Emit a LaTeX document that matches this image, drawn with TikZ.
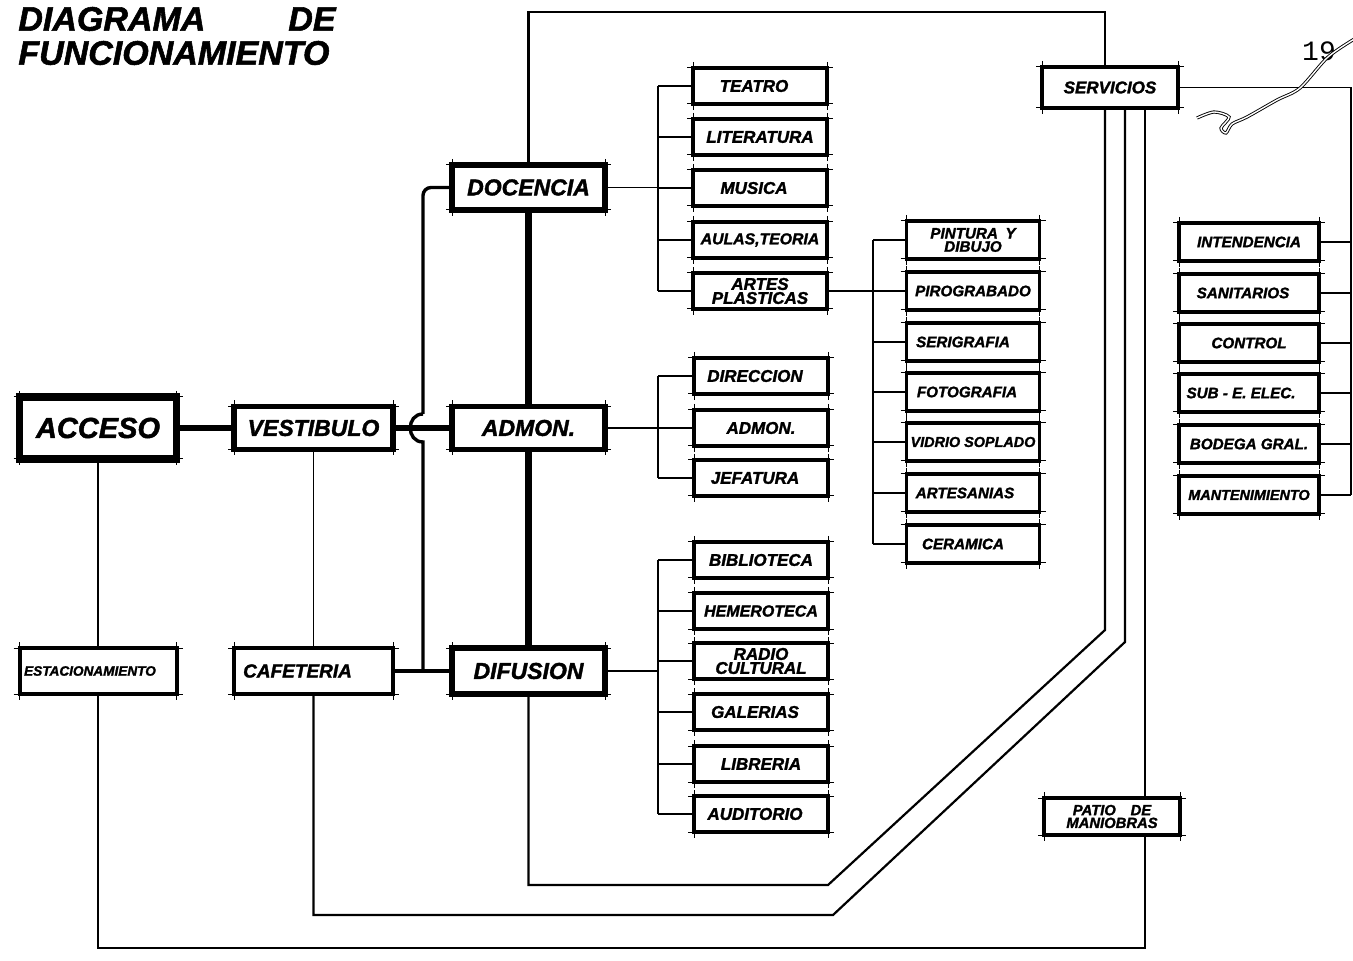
\documentclass[tikz,border=0pt]{standalone}
\usepackage{fontspec}
\setmainfont{Liberation Sans}
\newfontfamily\heavy{Liberation Sans}
\newfontfamily\monof{Liberation Mono}
\newcommand{\hv}[2]{\heavy\bfseries\itshape\addfontfeature{FakeBold=1.6}\fontsize{#1}{#2}\selectfont}
\tikzset{
  bx/.style={draw, fill=white, line width=1.7pt, inner sep=0pt, outer sep=0pt,
     minimum width=67pt, minimum height=18pt, align=center,
     font=\hv{8.5pt}{7pt}},
  artbx/.style={bx, minimum width=66.5pt, minimum height=19pt, font=\hv{7.6pt}{6.6pt}},
  rbx/.style={bx, minimum width=70pt, minimum height=19pt, font=\hv{7.6pt}{7.6pt}},
  mainbx/.style={bx, line width=2.6pt, minimum width=76.5pt, minimum height=22.5pt, font=\hv{11.5pt}{11.5pt}},
  accbx/.style={bx, line width=3.6pt, minimum width=78.5pt, minimum height=31pt, font=\hv{14.5pt}{14.5pt}},
  lowbx/.style={bx, line width=2.2pt, minimum width=79.5pt, minimum height=23pt, font=\hv{9.5pt}{9.5pt}},
  tick/.style={line width=0.5pt},
  thin/.style={line width=0.75pt},
  outl/.style={line width=1.1pt},
  bus/.style={line width=1.7pt},
  scrib/.style={line width=0.45pt, double, double distance=0.7pt},
}
\begin{document}
\begin{tikzpicture}[x=0.5pt, y=-0.5pt, line join=miter]
\fill[white] (0,0) rectangle (1353,961);
\useasboundingbox (0,0) rectangle (1353,961);

% coordinates
\coordinate (bx1) at (658,0);
\coordinate (bx2) at (873,0);
\coordinate (bxR) at (1351,0);
\coordinate (t2) at (1105,12);
\coordinate (b1) at (828,885);
\coordinate (d1) at (1105,630);
\coordinate (b2) at (833,915);
\coordinate (d2) at (1125,642);
\coordinate (b3) at (1145,948);
\coordinate (h1) at (423,414);
\coordinate (h2) at (423,442);

% title
\node[anchor=west, font=\hv{17pt}{17pt}, inner sep=0pt] (ti1) at (18,19) {DIAGRAMA};
\node[anchor=east, font=\hv{17pt}{17pt}, inner sep=0pt] (ti2) at (336,19) {DE};
\node[anchor=west, font=\hv{17pt}{17pt}, inner sep=0pt] (ti3) at (18,53) {FUNCIONAMIENTO};
\node[font=\monof\fontsize{14pt}{14pt}\selectfont, inner sep=0pt] (pg) at (1319,51) {19};

% main nodes
\node[accbx] (ACC) at (98,428) {ACCESO};
\node[mainbx, minimum width=79.5pt, minimum height=21.5pt] (VEST) at (313.5,428) {VESTIBULO};
\node[mainbx, minimum height=21.5pt] (ADM) at (528.5,428) {ADMON.};
\node[mainbx] (DOC) at (528.5,187.5) {DOCENCIA};
\node[mainbx, minimum height=23pt] (DIF) at (528.5,671) {DIFUSION};
\node[lowbx, minimum width=78.5pt, line width=2pt, font=\hv{6.8pt}{6.8pt}] (EST) at (98,671) {ESTACIONAMIENTO\hspace*{8pt}};
\node[lowbx] (CAF) at (313.5,671) {CAFETERIA\hspace*{16pt}};

% docencia list
\node[bx] (TEA) at (760,86) {TEATRO\hspace*{6pt}};
\node[bx] (LIT) at (760,137) {LITERATURA};
\node[bx] (MUS) at (760,188) {MUSICA\hspace*{6pt}};
\node[bx, font=\hv{7.9pt}{7.9pt}] (AUL) at (760,240) {AULAS,TEORIA};
\node[bx] (ART) at (760,291) {ARTES\\PLASTICAS};
% admon list
\node[bx] (DIR) at (761,376) {DIRECCION\hspace*{6pt}};
\node[bx] (ADM2) at (761,428) {ADMON.};
\node[bx] (JEF) at (761,478) {JEFATURA\hspace*{6pt}};
% difusion list
\node[bx] (BIB) at (761,560) {BIBLIOTECA};
\node[bx, font=\hv{8pt}{8pt}] (HEM) at (761,611) {HEMEROTECA};
\node[bx] (RAD) at (761,661) {RADIO\\CULTURAL};
\node[bx] (GAL) at (761,712) {GALERIAS\hspace*{6pt}};
\node[bx] (LIB) at (761,764) {LIBRERIA};
\node[bx] (AUD) at (761,814) {AUDITORIO\hspace*{6pt}};
% artes plasticas list
\node[artbx] (PIN) at (973,240) {PINTURA\enspace Y\\DIBUJO};
\node[artbx] (PIR) at (973,291) {PIROGRABADO};
\node[artbx] (SER) at (973,342) {SERIGRAFIA\hspace*{10pt}};
\node[artbx] (FOT) at (973,392) {FOTOGRAFIA\hspace*{6pt}};
\node[artbx, font=\hv{7.2pt}{7.2pt}] (VID) at (973,442) {VIDRIO SOPLADO};
\node[artbx] (ARS) at (973,493) {ARTESANIAS\hspace*{8pt}};
\node[artbx] (CER) at (973,544) {CERAMICA\hspace*{10pt}};
% servicios
\node[bx, minimum width=68pt, minimum height=20.5pt] (SERV) at (1110,87.5) {SERVICIOS};
\node[bx, minimum width=68pt, minimum height=18.5pt, font=\hv{7.4pt}{6.4pt}] (PAT) at (1112,816.5) {PATIO\quad DE\\MANIOBRAS};
\node[rbx] (INT) at (1249,242) {INTENDENCIA};
\node[rbx] (SAN) at (1249,293) {SANITARIOS\hspace*{6pt}};
\node[rbx] (CON) at (1249,343) {CONTROL};
\node[rbx] (SUB) at (1249,393) {SUB - E. ELEC.\hspace*{8pt}};
\node[rbx] (BOD) at (1249,444) {BODEGA GRAL.};
\node[rbx, font=\hv{7.2pt}{7.2pt}] (MAN) at (1249,495) {MANTENIMIENTO};

% corner ticks
\foreach \n in {ACC,VEST,ADM,DOC,DIF,EST,CAF,TEA,LIT,MUS,AUL,ART,DIR,ADM2,JEF,BIB,HEM,RAD,GAL,LIB,AUD,PIN,PIR,SER,FOT,VID,ARS,CER,SERV,PAT,INT,SAN,CON,SUB,BOD,MAN}{
  \draw[tick] ([xshift=-3pt]\n.north west) -- ([xshift=3pt]\n.north east);
  \draw[tick] ([xshift=-3pt]\n.south west) -- ([xshift=3pt]\n.south east);
  \draw[tick] ([yshift=3pt]\n.north west) -- ([yshift=-3pt]\n.south west);
  \draw[tick] ([yshift=3pt]\n.north east) -- ([yshift=-3pt]\n.south east);
}

% main connectors
\draw[line width=3pt] (ACC.east) -- (VEST.west);
\draw[line width=2.6pt] (VEST.east) -- (ADM.west);
\draw[line width=3.4pt] (DOC.south) -- (ADM.north);
\draw[line width=3.4pt] (ADM.south) -- (DIF.north);
\draw[bus, rounded corners=4pt] (DOC.west) -| (h1);
\draw[bus] (h1) .. controls (406,414) and (406,442) .. (h2) -- (h2 |- DIF.west);
\draw[bus] (CAF.east) -- (DIF.west);

% loops to servicios
\draw[outl] (DOC.north) |- (t2) -- (t2 |- SERV.north);
\draw[outl] (DIF.south) |- (b1) -- (d1) -- (d1 |- SERV.south);
\draw[thin] (VEST.south) -- (CAF.north);
\draw[outl] (CAF.south) |- (b2) -- (d2) -- (d2 |- SERV.south);
\draw[thin] (ACC.south) -- (EST.north);
\draw[thin] (EST.south) |- (b3) -- (b3 |- PAT.south);
\draw[outl] (PAT.north -| b3) -- (b3 |- SERV.south);

% docencia bus
\draw[thin] (DOC.east) -- (DOC.east -| bx1);
\draw[thin] (TEA.west -| bx1) -- (ART.west -| bx1);
\foreach \n in {TEA,LIT,MUS,AUL,ART}{\draw[thin] (\n.west) -- (\n.west -| bx1);}
% admon bus
\draw[thin] (ADM.east) -- (ADM2.west);
\draw[thin] (DIR.west -| bx1) -- (JEF.west -| bx1);
\foreach \n in {DIR,JEF}{\draw[thin] (\n.west) -- (\n.west -| bx1);}
% difusion bus
\draw[thin] (DIF.east) -- (DIF.east -| bx1);
\draw[thin] (BIB.west -| bx1) -- (AUD.west -| bx1);
\foreach \n in {BIB,HEM,RAD,GAL,LIB,AUD}{\draw[thin] (\n.west) -- (\n.west -| bx1);}
% artes bus
\draw[thin] (ART.east) -- (ART.east -| bx2);
\draw[thin] (PIN.west -| bx2) -- (CER.west -| bx2);
\foreach \n in {PIN,PIR,SER,FOT,VID,ARS,CER}{\draw[thin] (\n.west) -- (\n.west -| bx2);}
% servicios bus
\draw[thin] (SERV.east) -- (SERV.east -| bxR) -- (MAN.east -| bxR);
\foreach \n in {INT,SAN,CON,SUB,BOD,MAN}{\draw[thin] (\n.east) -- (\n.east -| bxR);}

% scribble
\draw[scrib] plot[smooth] coordinates {(1356,38) (1328,57) (1300,88) (1277,100) (1247,117) (1232,124) (1226,133) (1221,128) (1229,117) (1214,112) (1197,118)};
\end{tikzpicture}
\end{document}
